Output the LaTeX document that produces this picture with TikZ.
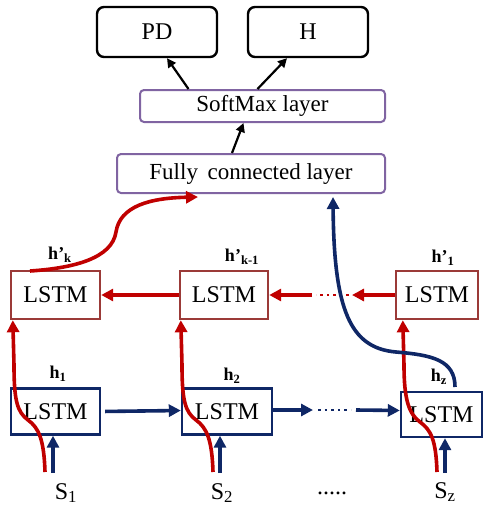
\documentclass[tikz,border=0pt]{standalone}
\usepackage{fontspec}
\setmainfont{Liberation Serif}
\usetikzlibrary{arrows.meta}
\definecolor{redline}{HTML}{C00000}
\definecolor{redbox}{HTML}{9B3A38}
\definecolor{navy}{HTML}{0F2766}
\definecolor{violet}{HTML}{8064A2}
\tikzset{
  outbox/.style={draw=black, line width=2.4pt, rounded corners=7pt, minimum width=120pt, minimum height=50pt, font=\fontsize{24}{28}\selectfont},
  layerbox/.style={draw=violet, line width=2pt, rounded corners=4pt, font=\fontsize{23}{27}\selectfont, inner sep=0pt},
  bwdbox/.style={draw=redbox, line width=2.4pt, minimum height=48pt, font=\fontsize{24}{28}\selectfont, inner sep=0pt},
  fwdbox/.style={draw=navy, line width=2.4pt, minimum height=46pt, font=\fontsize{24}{28}\selectfont, inner sep=0pt},
  hlabel/.style={font=\fontsize{18}{20}\selectfont\bfseries, inner sep=0pt},
  slabel/.style={font=\fontsize{24}{28}\selectfont, inner sep=0pt},
  blackarrow/.style={draw=black, line width=2.2pt, -{Triangle[length=9pt,width=9pt]}},
  redarrow/.style={draw=redline, line width=3.6pt, -{Triangle[length=12pt,width=12pt]}},
  navyarrow/.style={draw=navy, line width=3.6pt, -{Triangle[length=12pt,width=12pt]}},
  reddots/.style={draw=redline, line width=2.6pt, dash pattern=on 2.6pt off 4pt},
  navydots/.style={draw=navy, line width=2.6pt, dash pattern=on 2.6pt off 4pt},
}
\begin{document}
\begin{tikzpicture}[x=1pt, y=-1pt]
\useasboundingbox (0,0) rectangle (485,509);

% output and classification layers
\node[outbox] (pd) at (157,32) {PD};
\node[outbox] (h) at (308,32) {H};
\node[layerbox, minimum width=245pt, minimum height=32pt] (sm) at (262.5,106) {SoftMax layer};
\node[layerbox, minimum width=268pt, minimum height=39pt] (fc) at (251,173.5) {Fully\, connected layer};

\draw[blackarrow] ([xshift=-74pt]sm.north) -- ([xshift=10pt]pd.south);
\draw[blackarrow] ([xshift=-5pt]sm.north) -- ([xshift=-21pt]h.south);
\draw[blackarrow] ([xshift=-19pt]fc.north) -- ([xshift=-19pt]sm.south);

% backward LSTM row
\node[bwdbox, minimum width=89pt] (t1) at (55.5,295) {LSTM};
\node[bwdbox, minimum width=88pt] (t2) at (224,295) {LSTM};
\node[bwdbox, minimum width=82pt] (t3) at (437,295) {LSTM};

% forward LSTM row
\node[fwdbox, minimum width=89pt] (b1) at (55.5,411.5) {LSTM};
\node[fwdbox, minimum width=90pt] (b2) at (227,411.5) {LSTM};
\node[fwdbox, minimum width=81pt, minimum height=45pt] (b3) at (441.5,414.5) {LSTM};

% hidden state labels
\node[hlabel] (lk) at (60,255) {h’\textsubscript{k}};
\node[hlabel] (lk1) at (242,257) {h’\textsubscript{k-1}};
\node[hlabel] (l1) at (443,258) {h’\textsubscript{1}};
\node[hlabel] (f1) at (58,374) {h\textsubscript{1}};
\node[hlabel] (f2) at (232,376) {h\textsubscript{2}};
\node[hlabel] (fz) at (439,377) {h\textsubscript{z}};

% inputs
\node[slabel] (s1) at (66,493) {S\textsubscript{1}};
\node[slabel] (s2) at (222,493) {S\textsubscript{2}};
\node[slabel] (sz) at (445,492) {S\textsubscript{z}};
\node[slabel] (sd) at (332,493) {.....};

% backward recurrence
\coordinate (rt) at (352,295);
\coordinate (rd1) at (349,295);
\coordinate (rd2) at (316,295);
\coordinate (rs) at (312,295);
\draw[redarrow] (t3.west) -- (rt);
\draw[reddots] (rd1) -- (rd2);
\draw[redarrow] (rs) -- (t2.east);
\draw[redarrow] (t2.west) -- (t1.east);

% forward recurrence
\coordinate (nt) at (313,410);
\coordinate (nd1) at (318,410);
\coordinate (nd2) at (351,410);
\coordinate (ns) at (356,410);
\draw[navyarrow, shorten <=4pt] (b1.east) -- ([yshift=1pt]b2.west);
\draw[navyarrow] ([yshift=1.5pt]b2.east) -- (nt);
\draw[navydots] (nd1) -- (nd2);
\draw[navyarrow] (ns) -- ([yshift=4pt]b3.west);

% input feeds
\coordinate (in1) at (53,473);
\coordinate (in2) at (220,473);
\coordinate (in3) at (445,473);
\draw[navyarrow] (in1) -- (in1 |- b1.south);
\draw[navyarrow] (in2) -- (in2 |- b2.south);
\draw[navyarrow] (in3) -- (in3 |- b3.south);

\coordinate (r1) at (45,472);
\coordinate (r2) at (213,472);
\coordinate (r3) at (437,472);
\draw[redarrow] (r1) .. controls (44,440) and (39,428) .. (28,420)
  .. controls (17,412) and (14,400) .. (14,365) -- ([xshift=3pt]t1.south west);
\draw[redarrow] (r2) .. controls (212,440) and (207,428) .. (196,420)
  .. controls (185,412) and (182,400) .. (182,365) -- ([xshift=2pt]t2.south west);
\draw[redarrow] (r3) .. controls (436,440) and (431,430) .. (420,422)
  .. controls (409,414) and (404,400) .. (404,365) -- ([xshift=8pt]t3.south west);

% final states into the fully connected layer
\coordinate (hk) at (30,271);
\draw[redarrow] (hk) .. controls (75,268) and (112,258) .. (116,232)
  .. controls (120,206) and (150,198) .. ([xshift=82pt,yshift=-3pt]fc.south west);
\coordinate (hz) at (455,387);
\draw[navyarrow] (hz) .. controls (455,360) and (432,355) .. (396,352)
  .. controls (350,348) and (334,310) .. ([xshift=82pt,yshift=-3pt]fc.south);
\end{tikzpicture}
\end{document}
